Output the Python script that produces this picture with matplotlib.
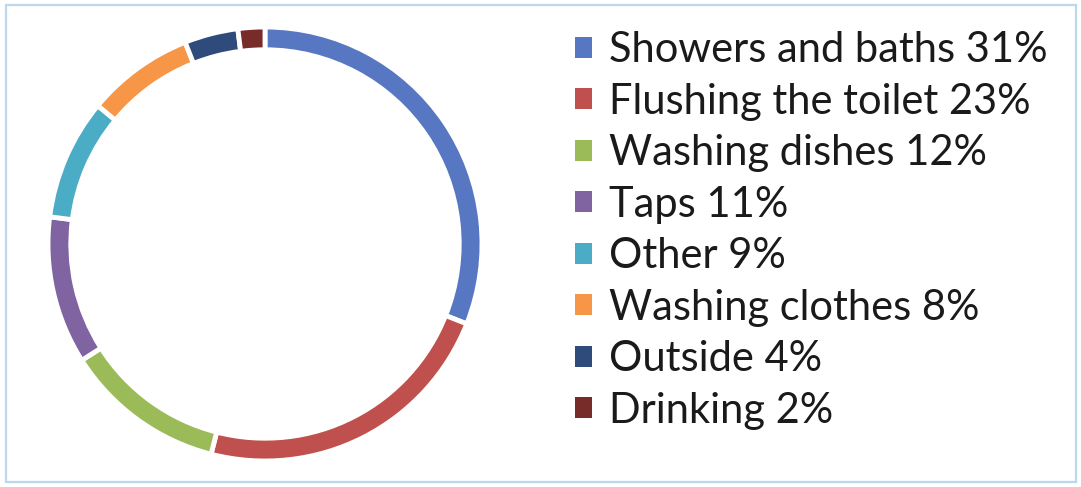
import matplotlib.pyplot as plt
from matplotlib.patches import Rectangle

# Household water use
labels = ["Showers and baths", "Flushing the toilet", "Washing dishes", "Taps",
          "Other", "Washing clothes", "Outside", "Drinking"]
shares = [31, 23, 12, 11, 9, 8, 4, 2]
colors = ["#5877C2", "#C0504D", "#9BBB59", "#8064A2",
          "#4BACC6", "#F79646", "#2F4B7C", "#772C2A"]

plt.rcParams['font.family'] = ['Lato', 'DejaVu Sans']

fig = plt.figure(figsize=(10.81, 4.87), dpi=100)
fig.patch.set_facecolor('white')

# light blue frame around the chart
fig.patches.append(Rectangle((6 / 1081, 5 / 487), 1070 / 1081, 477 / 487,
                             transform=fig.transFigure, fill=False,
                             edgecolor='#BDD7EE', linewidth=1.6))

# donut
ax = fig.add_axes([48 / 1081, 26 / 487, 434 / 1081, 434 / 487])
wedges, _ = ax.pie(shares, colors=colors, startangle=90, counterclock=False,
                   radius=1.0,
                   wedgeprops=dict(width=0.105, edgecolor='white', linewidth=3.5))
ax.set_aspect('equal')
ax.set_xlim(-1, 1)
ax.set_ylim(-1, 1)

leg_labels = [f"{l} {s}%" for l, s in zip(labels, shares)]
leg = fig.legend(wedges, leg_labels, loc='upper left',
                 bbox_to_anchor=(575 / 1081, 1 - 31 / 487),
                 frameon=False, fontsize=30, handlelength=0.4,
                 handleheight=0.4, handletextpad=0.42, labelspacing=0.325,
                 borderpad=0, borderaxespad=0)
for h in leg.legend_handles:
    h.set_linewidth(0)
for t in leg.get_texts():
    t.set_color('#1a1a1a')

fig.savefig('out.png', dpi=100)
